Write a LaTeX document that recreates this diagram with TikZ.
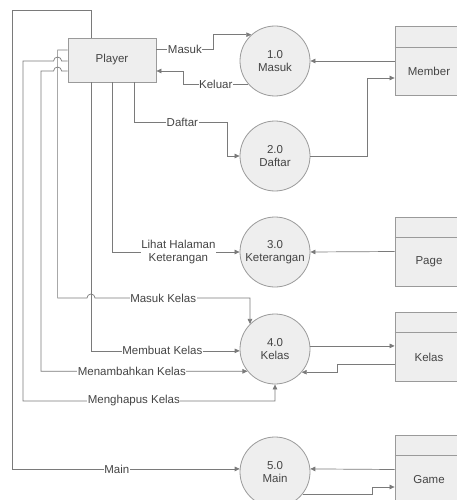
\documentclass[tikz,border=0pt]{standalone}
\usepackage{fontspec}
\setmainfont{Liberation Sans}
\usetikzlibrary{arrows.meta}
\definecolor{linegray}{HTML}{7A7A7A}
\definecolor{edgegray}{HTML}{9A9A9A}
\definecolor{fillgray}{HTML}{EEEEEE}
\definecolor{textgray}{HTML}{444444}

\begin{document}
\begin{tikzpicture}[x=1pt, y=-1pt,
    every node/.style={font=\fontsize{11.5}{13.5}\selectfont, text=textgray},
    process/.style={circle, draw=edgegray, line width=0.8pt, fill=fillgray, minimum size=70pt, inner sep=0pt, align=center},
    entity/.style={rectangle, draw=edgegray, line width=0.8pt, fill=fillgray, minimum width=88pt, minimum height=44pt},
    store/.style={rectangle, draw=edgegray, line width=0.8pt, fill=fillgray, minimum width=68pt, minimum height=69pt},
    flow/.style={draw=linegray, line width=0.7pt, -{Triangle[length=5pt,width=4.5pt]}},
    lbl/.style={fill=white, inner sep=0.5pt, align=center}]
  \useasboundingbox (0,0) rectangle (457,500);
  \clip (0,0) rectangle (457,500);

  \node[entity] (player) at (112,60) {Player};
  \node[process] (p1) at (275,61) {1.0\\Masuk};
  \node[process] (p2) at (275,156) {2.0\\Daftar};
  \node[process] (p3) at (275,252) {3.0\\Keterangan};
  \node[process] (p4) at (275,349) {4.0\\Kelas};
  \node[process] (p5) at (275,472) {5.0\\Main};
  \node[store] (member) at (429,61) {};
  \node[store] (page) at (429,251.5) {};
  \node[store] (kelas) at (429,346.5) {};
  \node[store] (game) at (429,469.5) {};
  \foreach \s/\t in {member/Member, page/Page, kelas/Kelas, game/Game} {
    \draw[edgegray, line width=0.8pt] ([yshift=-21pt]\s.north west) -- ([yshift=-21pt]\s.north east);
    \node at ([yshift=-10.5pt]\s.center) {\t};
  }

  \draw[flow] ([xshift=-21pt]player.north) |- (12,10) |- node[lbl, pos=0.73]{Main} (p5.175);
  \draw[flow] ([yshift=11pt]player.east) -- node[lbl]{Masuk} ++(57,0) |- (p1.132);
  \draw[flow] (p1.221) -- node[lbl]{Keluar} ++(-65,0) |- ([yshift=-11pt]player.east);
  \draw[flow] (member.west) -- (p1.east);
  \draw[flow] ([xshift=22pt]player.south) |- node[lbl, pos=0.76]{Daftar} (227,122) |- (p2.west);
  \draw[flow] (p2.east) -- ++(57,0) |- ([yshift=-17pt]member.west);
  \draw[flow] (player.south) |- node[lbl, pos=0.76]{Lihat Halaman\\Keterangan} (p3.west);
  \draw[flow] (page.west) -- (p3.east);
  \draw[flow] ([yshift=10pt]player.west) -- ++(-10,0) |- (87,298)
    arc[start angle=180, end angle=360, radius=4] -| node[lbl, pos=0.22]{Masuk Kelas} (p4.135);
  \draw[flow] ([xshift=-21pt]player.south) |- node[lbl, pos=0.74]{Membuat Kelas} (p4.183);
  \draw[flow] ([yshift=-11pt]player.west) -- ++(-6,0) arc[start angle=0, end angle=-180, radius=4]
    -- (41,71) |- node[lbl, pos=0.72]{Menambahkan Kelas} (p4.219);
  \draw[flow] ([yshift=-1pt]player.west) -- ++(-6,0) arc[start angle=0, end angle=-180, radius=4]
    -- (23,61) -- (23,401) -| node[lbl, pos=0.22]{Menghapus Kelas} (p4.south);
  \draw[flow] (p4.5) -- (p4.5 -| kelas.west);
  \draw[flow] ([yshift=-17.5pt]kelas.west) -- ++(-57,0) |- (p4.319);
  \draw[flow] (game.west) -- (p5.5);
  \draw[flow] (p5.321) -- ++(70,0) |- ([yshift=-17.5pt]game.west);
\end{tikzpicture}
\end{document}
